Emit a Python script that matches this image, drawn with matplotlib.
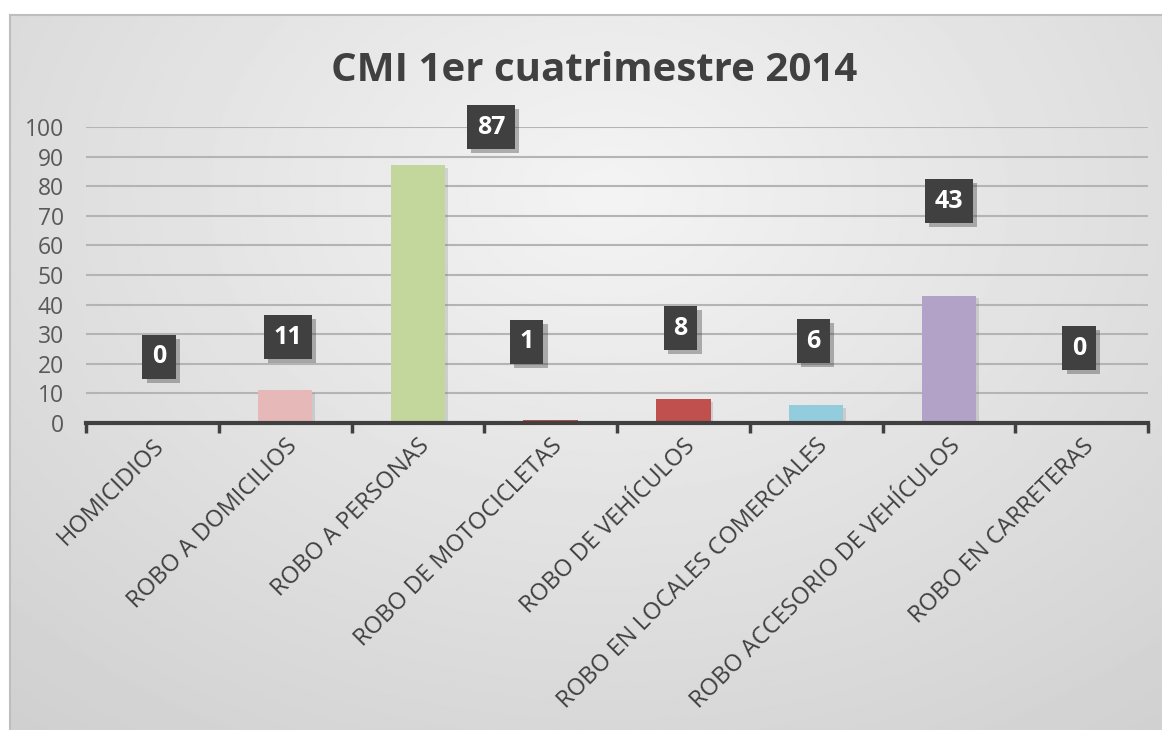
import matplotlib.pyplot as plt
import matplotlib.patheffects as pe
import numpy as np

categorias = ["HOMICIDIOS", "ROBO A DOMICILIOS", "ROBO A PERSONAS", "ROBO DE MOTOCICLETAS",
              "ROBO DE VEHÍCULOS", "ROBO EN LOCALES COMERCIALES",
              "ROBO ACCESORIO DE VEHÍCULOS", "ROBO EN CARRETERAS"]
valores = [0, 11, 87, 1, 8, 6, 43, 0]
colores = ["#C0504D", "#E6B9B8", "#C3D69B", "#C0504D", "#C0504D", "#93CDDD", "#B3A2C7", "#C0504D"]

# where the data labels sit (data units)
etiqueta_y = [22.3, 29, 100, 27.4, 32, 27.7, 75, 25.3]
etiqueta_dx = [0.05, 0.02, 0.55, -0.18, -0.02, -0.02, 0.0, -0.02]

plt.rcParams['font.family'] = ['Open Sans', 'DejaVu Sans']

fig = plt.figure(figsize=(11.62, 7.3), dpi=100)
fig.patch.set_facecolor("white")

# gradient background panel
bg = fig.add_axes([10 / 1162, 0, 1 - 10 / 1162, 1 - 15 / 730])
yy, xx = np.mgrid[0:1:300j, 0:1:500j]
r = np.sqrt(((xx - 0.52) / 0.75) ** 2 + ((yy - 0.25) / 0.9) ** 2)
img = 0.955 - 0.17 * np.clip(r, 0, 1.3) / 1.3
bg.imshow(img, cmap="gray", vmin=0, vmax=1, aspect="auto", extent=[0, 1, 0, 1], origin="upper")
bg.set_xticks([])
bg.set_yticks([])
for s in bg.spines.values():
    s.set_color("#BEBEBE")
    s.set_linewidth(1.5)
bg.spines["bottom"].set_visible(False)
bg.spines["right"].set_visible(False)

ax = fig.add_axes([86 / 1162, 1 - 423 / 730, (1148 - 86) / 1162, (423 - 127) / 730])
ax.set_facecolor("none")
x = np.arange(len(categorias))
bars = ax.bar(x, valores, width=0.41, color=colores, zorder=3)
for b in bars:
    b.set_path_effects([pe.SimplePatchShadow(offset=(2, -2), shadow_rgbFace="#808080", alpha=0.25), pe.Normal()])

ax.set_xlim(-0.5, len(categorias) - 0.5)
ax.set_ylim(0, 100)
ax.set_yticks(range(0, 101, 10))
ax.yaxis.grid(True, color="#B4B4B4", linewidth=1.5, zorder=0)
ax.set_axisbelow(True)
for s in ["top", "right", "left"]:
    ax.spines[s].set_visible(False)
ax.spines["bottom"].set_color("#404040")
ax.spines["bottom"].set_linewidth(3)
ax.spines["bottom"].set_zorder(4)

ax.set_xticks(np.arange(-0.5, len(categorias), 1))
ax.set_xticks(x, minor=True)
ax.set_xticklabels([])
ax.set_xticklabels(categorias, minor=True, rotation=45, ha="right", va="top",
                   rotation_mode="anchor", fontsize=17, color="#404040")
ax.tick_params(axis="x", which="major", length=7, width=2.5, color="#404040", direction="out")
ax.tick_params(axis="x", which="minor", length=0, pad=8)
ax.tick_params(axis="y", length=0, labelsize=16.5, labelcolor="#595959", pad=16)

for i, v in enumerate(valores):
    t = ax.text(x[i] + etiqueta_dx[i], etiqueta_y[i], str(v), ha="center", va="center",
                fontsize=18, fontweight="bold", color="white", zorder=6,
                bbox=dict(boxstyle="square,pad=0.38", facecolor="#404040", edgecolor="none"))
    t.get_bbox_patch().set_path_effects([pe.SimplePatchShadow(offset=(3, -3), shadow_rgbFace="#333333", alpha=0.35), pe.Normal()])

fig.text(0.511, 0.904, "CMI 1er cuatrimestre 2014", ha="center", va="center",
         fontsize=29, fontweight="bold", color="#404040")

fig.savefig("out.png", dpi=100)
